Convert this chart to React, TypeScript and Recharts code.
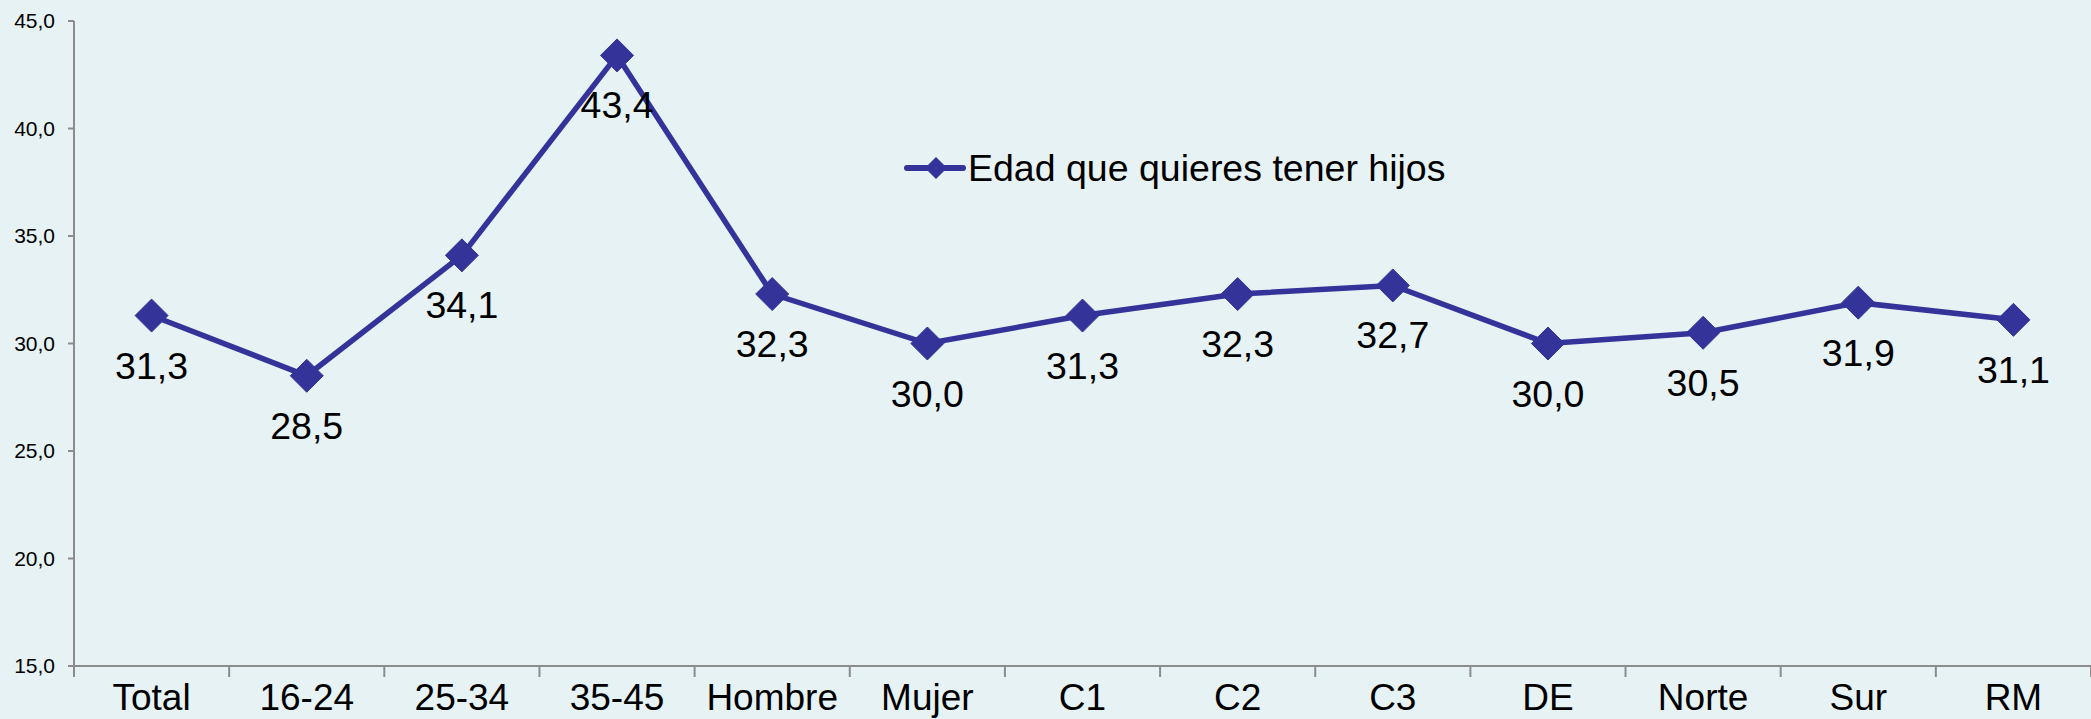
import React from 'react';
import { LineChart, Line, XAxis, YAxis, Legend, LabelList } from 'recharts';

const categories = ['Total', '16-24', '25-34', '35-45', 'Hombre', 'Mujer', 'C1', 'C2', 'C3', 'DE', 'Norte', 'Sur', 'RM'];
const values = [31.3, 28.5, 34.1, 43.4, 32.3, 30.0, 31.3, 32.3, 32.7, 30.0, 30.5, 31.9, 31.1];
const yTicks = [15, 20, 25, 30, 35, 40, 45];
const seriesName = 'Edad que quieres tener hijos';

const data = categories.map((c, i) => ({ idx: i, cat: c, value: values[i] }));
const xTicks = [
  ...categories.map((_, i) => i - 0.5),
  categories.length - 0.5,
  ...categories.map((_, i) => i),
].sort((a, b) => a - b);

const FONT = '"Liberation Sans", Arial, Helvetica, sans-serif';
const AXIS = '#8c8c8c';
const LINE = '#333399';
const BG = '#e7f2f4';

const fmt = (v: number) => v.toFixed(1).replace('.', ',');

const XTick = (props: any) => {
  const { x, y, payload } = props;
  const v = payload.value;
  if (Number.isInteger(v)) {
    return (
      <text x={x} y={y + 44} textAnchor="middle" fontSize={37} fill="#000" fontFamily={FONT}>
        {categories[v]}
      </text>
    );
  }
  return <line x1={x} x2={x} y1={y} y2={y + 11} stroke={AXIS} strokeWidth={2} />;
};

const Diamond = (props: any) => {
  const { cx, cy } = props;
  if (cx == null || cy == null) return null;
  const r = 16.5;
  return (
    <polygon
      points={`${cx},${cy - r} ${cx + r},${cy} ${cx},${cy + r} ${cx - r},${cy}`}
      fill={LINE}
      stroke={LINE}
    />
  );
};

const LegendContent = () => (
  <div style={{ display: 'flex', alignItems: 'center', fontSize: 37.5, fontFamily: FONT, color: '#000', lineHeight: '44px', whiteSpace: 'nowrap' }}>
    <svg width={64} height={30} style={{ display: 'block' }}>
      <line x1={3} x2={59} y1={15} y2={15} stroke={LINE} strokeWidth={6} strokeLinecap="round" />
      <polygon points="32,4 43,15 32,26 21,15" fill={LINE} />
    </svg>
    <span>{seriesName}</span>
  </div>
);

export default function App() {
  return (
    <div style={{ position: 'absolute', left: 0, top: 0, width: 2091, height: 719, background: BG }}>
      <LineChart
        width={2091}
        height={719}
        data={data}
        margin={{ top: 21, right: 0, bottom: 0, left: 0 }}
        style={{ fontFamily: FONT }}
      >
        <XAxis
          dataKey="idx"
          type="number"
          domain={[-0.5, categories.length - 0.5]}
          ticks={xTicks}
          interval={0}
          tick={<XTick />}
          tickLine={false}
          tickSize={0}
          tickMargin={0}
          height={53}
          axisLine={{ stroke: AXIS, strokeWidth: 2 }}
        />
        <YAxis
          domain={[15, 45]}
          ticks={yTicks}
          interval={0}
          width={74}
          tickFormatter={fmt}
          tick={{ fontSize: 21, fill: '#000', fontFamily: FONT }}
          tickSize={6}
          tickMargin={13}
          tickLine={{ stroke: AXIS, strokeWidth: 2 }}
          axisLine={{ stroke: AXIS, strokeWidth: 2 }}
        />
        <Legend
          layout="horizontal"
          verticalAlign="middle"
          align="center"
          content={<LegendContent />}
          wrapperStyle={{ left: 904, top: 146, width: 'auto' }}
        />
        <Line
          type="linear"
          dataKey="value"
          name={seriesName}
          stroke={LINE}
          strokeWidth={5.5}
          dot={<Diamond />}
          activeDot={false}
          isAnimationActive={false}
        >
          <LabelList
            dataKey="value"
            content={(p: any) => (
              <text x={p.x} y={p.y + 63} textAnchor="middle" fontSize={37.5} fill="#000" fontFamily={FONT}>
                {fmt(Number(p.value))}
              </text>
            )}
          />
        </Line>
      </LineChart>
    </div>
  );
}
